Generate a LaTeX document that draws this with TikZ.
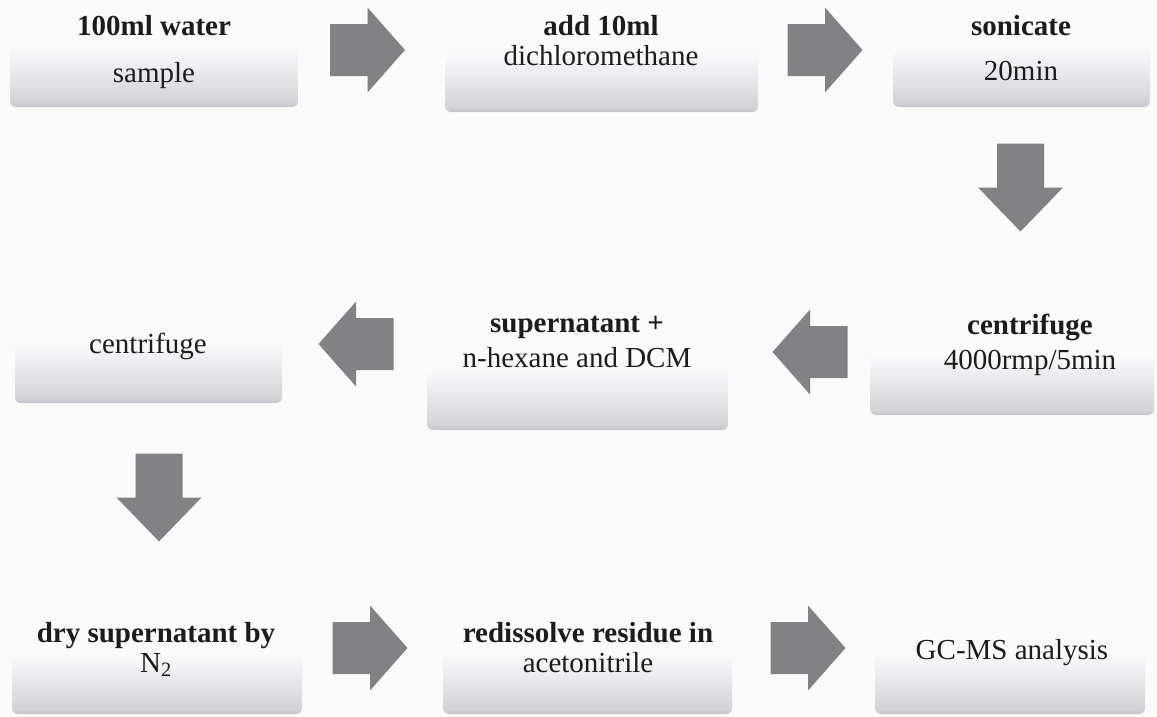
\documentclass[tikz,border=0pt]{standalone}
\usepackage{fontspec}
\setmainfont{Liberation Serif}
\definecolor{bg}{RGB}{251,251,252}
\definecolor{arrowgray}{RGB}{130,130,132}
\definecolor{boxedge}{RGB}{196,196,202}
\definecolor{boxbot}{RGB}{210,210,215}
\definecolor{boxmid}{RGB}{226,226,231}
\definecolor{boxlite}{RGB}{240,240,243}
\definecolor{txt}{RGB}{28,28,28}
\pgfdeclareverticalshading{boxshade}{100bp}{color(0bp)=(boxedge); color(25bp)=(boxedge); color(27bp)=(boxbot); color(36bp)=(boxmid); color(43bp)=(boxlite); color(50bp)=(bg); color(100bp)=(bg)}
\tikzset{
  stepbox/.style={shading=boxshade, rounded corners=6pt},
  lbl/.style={anchor=base, inner sep=0pt, text=txt, font=\fontsize{29}{34}\selectfont},
  blbl/.style={lbl, font=\fontsize{29}{34}\selectfont\bfseries},
  blockarrow/.pic={\fill[arrowgray] (-37.5,-26) -- (0,-26) -- (0,-42.5) -- (37.5,0) -- (0,42.5) -- (0,26) -- (-37.5,26) -- cycle;},
  longarrow/.pic={\fill[arrowgray] (-44,-23.5) -- (0,-23.5) -- (0,-42.5) -- (44,0) -- (0,42.5) -- (0,23.5) -- (-44,23.5) -- cycle;}
}
\begin{document}
\begin{tikzpicture}[x=1pt,y=-1pt]
\useasboundingbox (0,0) rectangle (1157,716);
\fill[bg] (0,0) rectangle (1157,716);
\begin{scope}
\clip (0,0) rectangle (1157,716);
% boxes
\path[stepbox] (10,-12) rectangle (298,107);
\path[stepbox] (445,-8) rectangle (758,112);
\path[stepbox] (893,-12) rectangle (1150,107);
\path[stepbox] (15,283) rectangle (282,403);
\path[stepbox] (427,305) rectangle (728,430);
\path[stepbox] (870,292) rectangle (1154,415);
\path[stepbox] (12,592) rectangle (302,714);
\path[stepbox] (443,592) rectangle (732,714);
\path[stepbox] (875,592) rectangle (1145,714);
\end{scope}
% texts
\node[blbl] (t1a) at (154,35) {100ml water};
\node[lbl]  (t1b) at (154,82) {sample};
\node[blbl] (t2a) at (601,35) {add 10ml};
\node[lbl]  (t2b) at (601,65) {dichloromethane};
\node[blbl] (t3a) at (1021,35) {sonicate};
\node[lbl]  (t3b) at (1021,80) {20min};
\node[lbl]  (t4a) at (148,353) {centrifuge};
\node[blbl] (t5a) at (577,332) {supernatant +};
\node[lbl]  (t5b) at (577,367) {n-hexane and DCM};
\node[blbl] (t6a) at (1030,334) {centrifuge};
\node[lbl]  (t6b) at (1030,369) {4000rmp/5min};
\node[blbl] (t7a) at (156,642) {dry supernatant by};
\node[lbl]  (t7b) at (156,672) {N\textsubscript{2}};
\node[blbl] (t8a) at (588,642) {redissolve residue in};
\node[lbl]  (t8b) at (588,672) {acetonitrile};
\node[lbl]  (t9a) at (1012,659) {GC-MS analysis};
% block arrows
\pic (a1) at (367.5,50) {blockarrow};
\pic (a2) at (825,50) {blockarrow};
\pic[rotate=-90] (a3) at (1020.5,187.5) {longarrow};
\pic[rotate=180] (a4) at (356,344) {blockarrow};
\pic[rotate=180] (a5) at (810,352) {blockarrow};
\pic[rotate=-90] (a6) at (159,497.5) {longarrow};
\pic (a7) at (370,648) {blockarrow};
\pic (a8) at (808,648) {blockarrow};
\end{tikzpicture}
\end{document}
